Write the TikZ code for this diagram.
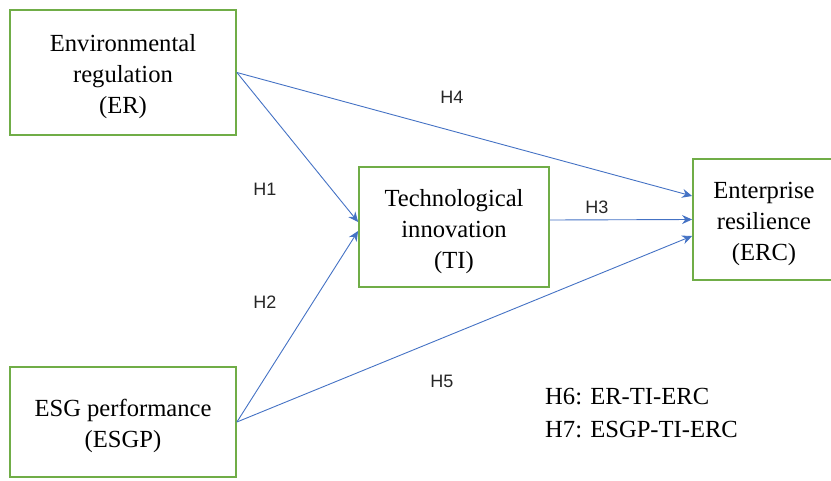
\documentclass[tikz,border=0pt]{standalone}
\usepackage{fontspec}
\setmainfont{Liberation Serif}
\newfontfamily\hlabelfont{Liberation Sans}
\usepackage{xcolor}
\usepackage{tikz}
\usetikzlibrary{arrows.meta,positioning}

\definecolor{boxgreen}{HTML}{70AD47}
\definecolor{arrblue}{HTML}{4472C4}

\begin{document}
\begin{tikzpicture}[
				x=1pt, y=-1pt,
				>={Stealth[length=10pt,width=9pt]},
				construct/.style={
					rectangle, draw=boxgreen, line width=1.8pt,
					align=center, inner sep=0pt,
					font=\fontsize{24.6}{31}\selectfont
				},
				arr/.style={->, arrblue, line width=0.9pt},
				hyp/.style={font=\hlabelfont\fontsize{18}{20}\selectfont, text=black!85}
				]
				\useasboundingbox (0,0) rectangle (831,480);
				\node[construct, minimum width=226pt, minimum height=125pt] (er) at (123, 72.5) {\rule{0pt}{26pt}Environmental\\regulation\\(ER)};
				\node[construct, minimum width=226pt, minimum height=110pt] (esgp) at (123, 422) {\rule{0pt}{26pt}ESG performance\\(ESGP)};
				\node[construct, minimum width=190pt, minimum height=120pt] (ti) at (454, 227) {\rule{0pt}{26pt}Technological\\innovation\\(TI)};
				\node[construct, minimum width=142pt, minimum height=121pt] (erc) at (764, 219.5) {\rule{0pt}{26pt}Enterprise\\resilience\\(ERC)};
				
				\draw[arr] (er.east) -- ([yshift=5pt]ti.west);
				\draw[arr] (esgp.east) -- ([yshift=-4pt]ti.west);
				\draw[arr] (er.east) -- ([yshift=23.5pt]erc.west);
				\draw[arr] ([yshift=7pt]ti.east) -- (erc.west);
				\draw[arr] (esgp.east) -- ([yshift=-16.5pt]erc.west);
				
				\node[hyp] (h1) at (265, 189) {H1};
				\node[hyp] (h2) at (265, 302) {H2};
				\node[hyp] (h3) at (597, 207) {H3};
				\node[hyp] (h4) at (452, 97) {H4};
				\node[hyp] (h5) at (442, 381) {H5};
				
				\node[align=left, anchor=north west, inner sep=0pt, font=\fontsize{24.6}{33}\selectfont] (med) at (545, 388) {H6: ER-TI-ERC\\H7: ESGP-TI-ERC};
		\end{tikzpicture}
\end{document}
